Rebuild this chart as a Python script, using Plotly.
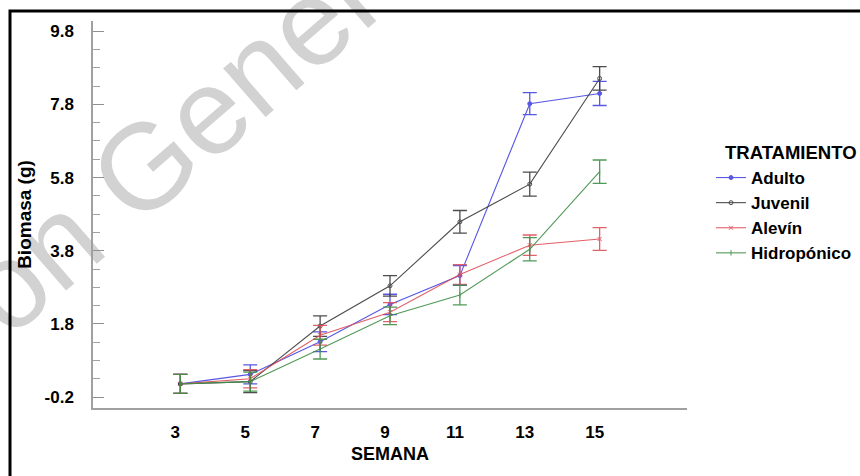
import plotly.graph_objects as go

semana = [3, 5, 7, 9, 11, 13, 15]
tick_labels = ["3", "5", "7", "9", "11", "13", "15"]
y_ticks = [-0.2, 1.8, 3.8, 5.8, 7.8, 9.8]
y_tick_labels = ["-0.2", "1.8", "3.8", "5.8", "7.8", "9.8"]

adulto = [0.16, 0.42, 1.31, 2.33, 3.12, 7.82, 8.10]
adulto_err = [0.26, 0.26, 0.27, 0.28, 0.27, 0.30, 0.33]
juvenil = [0.16, 0.22, 1.74, 2.84, 4.59, 5.62, 8.51]
juvenil_err = [0.26, 0.30, 0.28, 0.28, 0.31, 0.33, 0.32]
alevin = [0.16, 0.30, 1.49, 2.12, 3.15, 3.95, 4.12]
alevin_err = [0.26, 0.25, 0.27, 0.26, 0.27, 0.28, 0.31]
hidro = [0.16, 0.22, 1.11, 2.02, 2.59, 3.84, 5.96]
hidro_err = [0.26, 0.26, 0.27, 0.24, 0.27, 0.32, 0.32]

series = [
    ("Adulto", adulto, adulto_err, "#4646e0", "circle", 4),
    ("Juvenil", juvenil, juvenil_err, "#3a3a3a", "circle-open", 4),
    ("Alevín", alevin, alevin_err, "#e0505a", "x-thin-open", 4),
    ("Hidropónico", hidro, hidro_err, "#3f8f46", "line-ns-open", 4),
]

FONT = "Liberation Sans, Arial, sans-serif"

fig = go.Figure()
for name, vals, errs, col, sym, sz in series:
    fig.add_trace(go.Scatter(
        x=semana, y=vals, name=name, mode="lines+markers",
        line=dict(color=col, width=1.1),
        marker=dict(symbol=sym, size=sz, color=col, line=dict(color=col, width=1)),
        error_y=dict(type="data", array=errs, visible=True, color=col,
                     thickness=1.3, width=7),
        opacity=0.9,
    ))

L, R, T, B = 93, 173, 21, 68
W, H = 860, 476
pw, ph = W - L - R, H - T - B

def px(x):
    return (x - L) / pw

def py(y):
    return (H - B - y) / ph

fig.update_layout(
    width=W, height=H,
    margin=dict(l=L, r=R, t=T, b=B, pad=0, autoexpand=False),
    paper_bgcolor="white", plot_bgcolor="rgba(0,0,0,0)",
    font=dict(family=FONT, color="black"),
    showlegend=True,
    legend=dict(
        x=px(711), y=py(160), xanchor="left", yanchor="top",
        font=dict(family=FONT, size=17, color="black", weight="bold"),
        bgcolor="rgba(0,0,0,0)", borderwidth=0,
    ),
    xaxis=dict(
        range=[0.5, 17.5], tickmode="array", tickvals=semana, ticktext=tick_labels,
        showgrid=False, zeroline=False, showline=True, linecolor="#a0a0a0", linewidth=2,
        ticks="", ticklabelshift=-5, ticklabelstandoff=8,
        tickfont=dict(family=FONT, size=17, color="black", weight="bold"),
        title=dict(text="SEMANA", standoff=6,
                   font=dict(family=FONT, size=18, color="black", weight="bold")),
    ),
    yaxis=dict(
        range=[-0.5, 10.08], tickmode="array", tickvals=y_ticks, ticktext=y_tick_labels,
        showgrid=False, zeroline=False, showline=True, linecolor="#a0a0a0", linewidth=1.5,
        ticks="inside", ticklen=11, tickwidth=1.3, tickcolor="#909090",
        ticklabelstandoff=14,
        minor=dict(tickmode="linear", tick0=-0.2, dtick=0.5, ticks="inside", ticklen=7,
                   tickwidth=1.2, tickcolor="#a0a0a0"),
        tickfont=dict(family=FONT, size=17, color="black", weight="bold"),
        title=dict(text="Biomasa (g)", standoff=8,
                   font=dict(family=FONT, size=19, color="black", weight="bold")),
    ),
)

# legend title
fig.add_annotation(
    text="TRATAMIENTO", xref="paper", yref="paper", x=px(723), y=py(152),
    xanchor="left", yanchor="middle", showarrow=False,
    font=dict(family=FONT, size=18.5, color="black", weight="bold"),
)

# watermark (behind everything)
cx, cy = 165, 133
fig.add_shape(
    type="rect", xref="paper", yref="paper", layer="below",
    x0=px(cx - 1), x1=px(cx + 1), y0=py(cy + 1), y1=py(cy - 1),
    line=dict(width=0), fillcolor="rgba(0,0,0,0)",
    label=dict(text="on Gener", textangle=-41, textposition="middle center",
               xanchor="center", yanchor="middle",
               font=dict(family=FONT, size=122, color="#d2d2d2")),
)

# outer frame
fig.add_shape(
    type="rect", xref="paper", yref="paper",
    x0=px(10), x1=px(880), y0=py(500), y1=py(11),
    line=dict(color="black", width=3), layer="above",
)

fig.write_html("out.html")
